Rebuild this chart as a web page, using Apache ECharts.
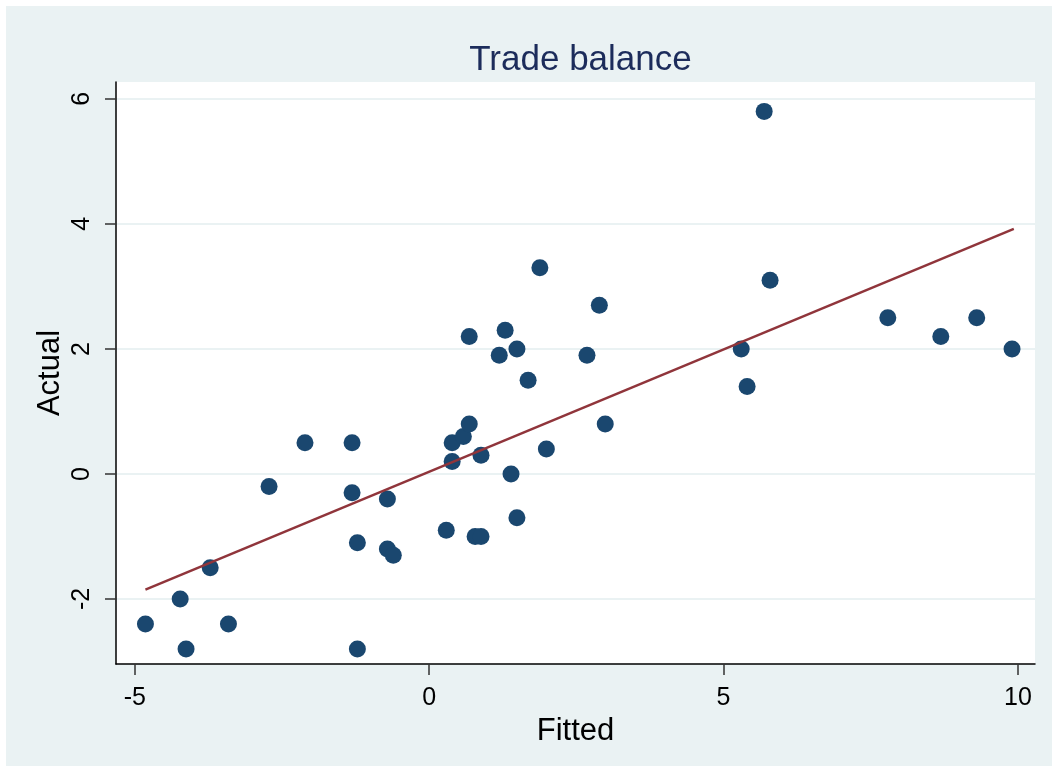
<!DOCTYPE html>
<html>
<head>
<meta charset="utf-8">
<script src="https://cdn.jsdelivr.net/npm/echarts@6/dist/echarts.min.js"></script>
<style>
  html, body { margin: 0; padding: 0; background: #ffffff; }
  #chart { position: absolute; left: 6px; top: 6px; width: 1046px; height: 760px; }
</style>
</head>
<body>
<div id="chart"></div>
<script>
  // fitted values (x) and actual values (y)
  var fitted = [-4.82, -4.23, -4.13, -3.72, -3.41, -2.72, -2.11, -1.31, -1.31, -1.22, -1.22,
                -0.71, -0.71, -0.61, 0.29, 0.39, 0.39, 0.58, 0.68, 0.68, 0.78, 0.88, 0.88,
                1.19, 1.29, 1.39, 1.49, 1.49, 1.68, 1.88, 1.99, 2.68, 2.89, 2.99,
                5.30, 5.40, 5.69, 5.79, 7.79, 8.69, 9.30, 9.90];
  var actual = [-2.4, -2.0, -2.8, -1.5, -2.4, -0.2, 0.5, 0.5, -0.3, -1.1, -2.8,
                -0.4, -1.2, -1.3, -0.9, 0.5, 0.2, 0.6, 0.8, 2.2, -1.0, -1.0, 0.3,
                1.9, 2.3, 0.0, 2.0, -0.7, 1.5, 3.3, 0.4, 1.9, 2.7, 0.8,
                2.0, 1.4, 5.8, 3.1, 2.5, 2.2, 2.5, 2.0];

  // linear fit line end points
  var lineX = [-4.82, 9.93];
  var lineY = [-1.85, 3.92];

  var xTicks = [-5, 0, 5, 10];
  var yTicks = [-2, 0, 2, 4, 6];

  var font = "'Liberation Sans', Arial, sans-serif";

  var points = fitted.map(function (v, i) { return [v, actual[i]]; });
  var fitLine = lineX.map(function (v, i) { return [v, lineY[i]]; });

  var chart = echarts.init(document.getElementById('chart'));
  chart.setOption({
    backgroundColor: '#EAF2F3',
    animation: false,
    title: {
      text: 'Trade balance',
      left: 569.5,
      top: 32,
      textAlign: 'center',
      textStyle: {
        fontFamily: font,
        fontSize: 35,
        fontWeight: 'normal',
        color: '#1c2c5b'
      }
    },
    grid: {
      left: 110,
      right: 17,
      top: 76,
      bottom: 102,
      show: true,
      backgroundColor: '#ffffff',
      borderWidth: 0
    },
    xAxis: {
      type: 'value',
      min: -5.32,
      max: 10.29,
      name: 'Fitted',
      nameLocation: 'middle',
      nameGap: 47,
      nameTextStyle: { fontFamily: font, fontSize: 31, color: '#000' },
      axisLine: { show: true, onZero: false, lineStyle: { color: '#000', width: 1.5 } },
      axisTick: { show: true, length: 11, customValues: xTicks, lineStyle: { color: '#333', width: 1.5 } },
      axisLabel: { customValues: xTicks, margin: 22, fontFamily: font, fontSize: 25, color: '#000' },
      splitLine: { show: false }
    },
    yAxis: {
      type: 'value',
      min: -3.04,
      max: 6.27,
      name: 'Actual',
      nameLocation: 'middle',
      nameGap: 50,
      nameMoveOverlap: false,
      nameTextStyle: { fontFamily: font, fontSize: 31, color: '#000' },
      axisLine: { show: true, onZero: false, lineStyle: { color: '#000', width: 1.5 } },
      axisTick: { show: true, length: 11, customValues: yTicks, lineStyle: { color: '#333', width: 1.5 } },
      axisLabel: { customValues: yTicks, rotate: 90, margin: 21, fontFamily: font, fontSize: 25, color: '#000' },
      splitLine: { show: true, lineStyle: { color: '#EAF2F3', width: 2 } }
    },
    series: [
      {
        type: 'scatter',
        data: points,
        symbol: 'circle',
        symbolSize: 17,
        itemStyle: { color: '#1a476f', opacity: 1 }
      },
      {
        type: 'line',
        data: fitLine,
        showSymbol: false,
        symbol: 'none',
        lineStyle: { color: '#90353b', width: 2.5 }
      }
    ]
  });
</script>
</body>
</html>
